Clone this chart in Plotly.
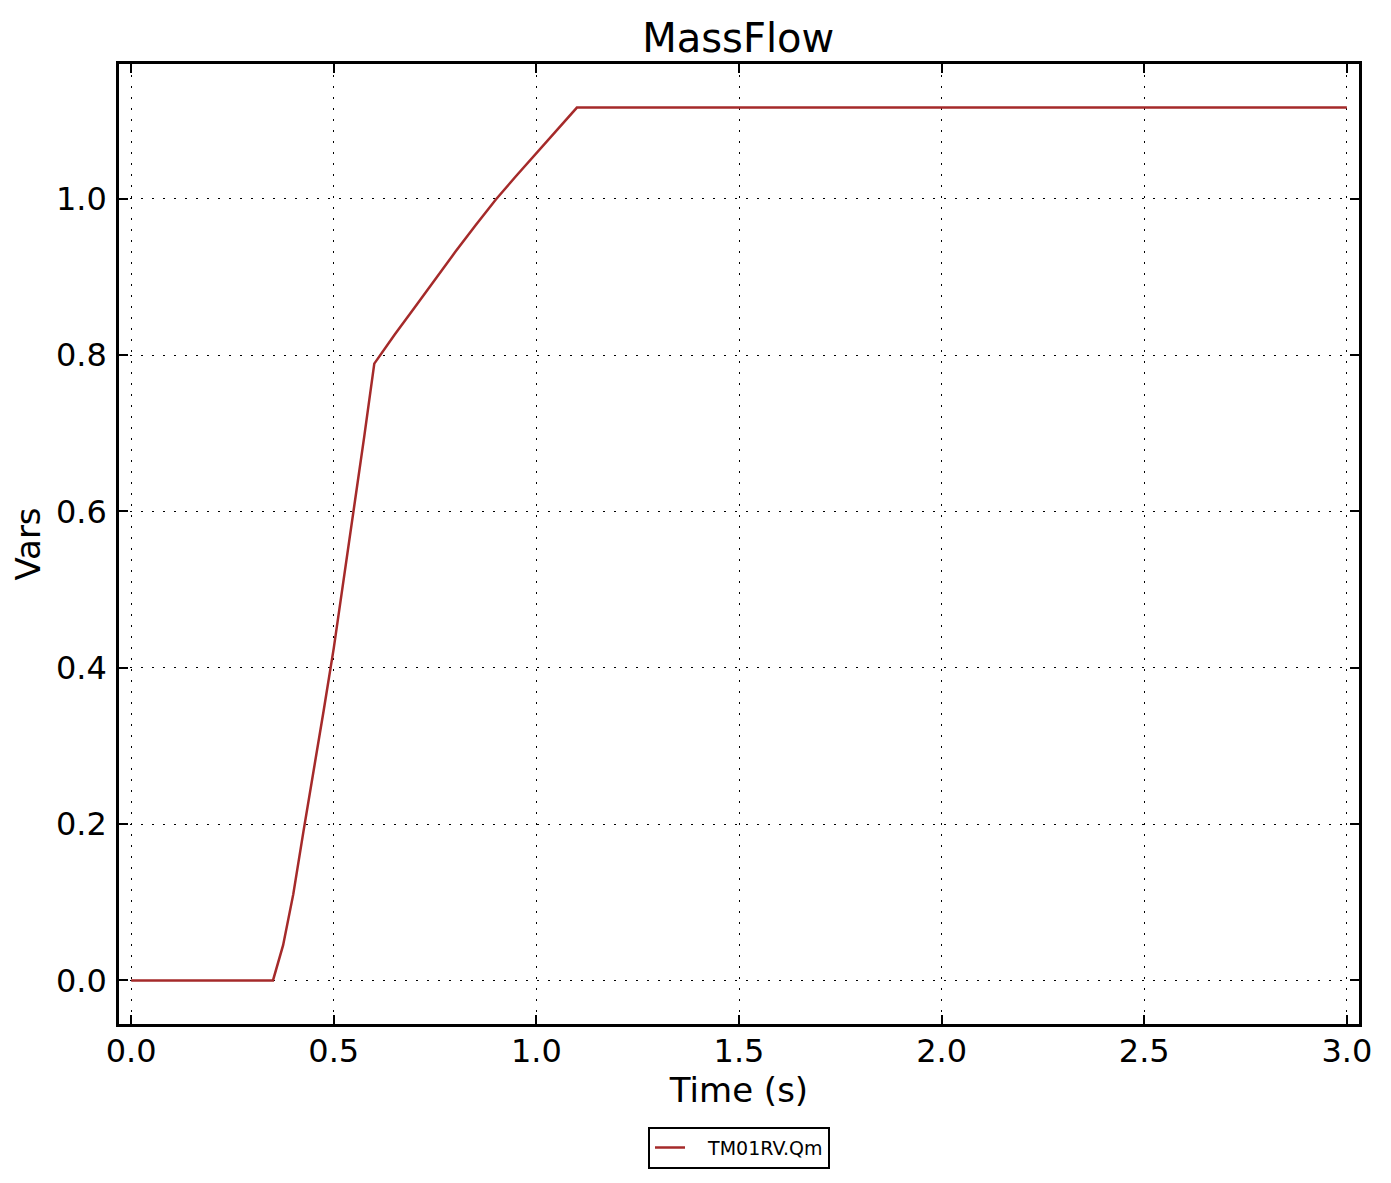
import plotly.graph_objects as go

# Data
time_s = [0.0, 0.35, 0.375, 0.40, 0.425, 0.45, 0.475, 0.50, 0.525, 0.55, 0.575,
          0.60, 0.65, 0.70, 0.75, 0.80, 0.85, 0.90, 0.95, 1.00, 1.05, 1.10, 3.0]
mass_flow = [0.0, 0.0, 0.045, 0.11, 0.19, 0.265, 0.345, 0.425, 0.513, 0.603, 0.695,
             0.789, 0.826, 0.861, 0.897, 0.932, 0.966, 0.999, 1.029, 1.058, 1.088, 1.1165, 1.1165]
series_name = "TM01RV.Qm"
x_ticks = [0.0, 0.5, 1.0, 1.5, 2.0, 2.5, 3.0]
y_ticks = [0.0, 0.2, 0.4, 0.6, 0.8, 1.0]

FONT = "DejaVu Sans"

fig = go.Figure()
fig.add_trace(go.Scatter(
    x=time_s, y=mass_flow, mode="lines", name="\u00a0\u00a0\u00a0" + series_name,
    line=dict(color="#a52a2a", width=2.5),
))

axis_common = dict(
    showline=True, linecolor="black", linewidth=2.5, mirror="ticks",
    ticks="inside", ticklen=9, tickwidth=1.5, tickcolor="black",
    showgrid=True, gridcolor="black", gridwidth=1, griddash="2px,9px",
    zeroline=False, automargin=False,
    tickfont=dict(family=FONT, size=32, color="black"),
)

fig.update_xaxes(
    **axis_common, range=[-0.03, 3.03], tickvals=x_ticks,
    ticktext=[f"{v:.1f}" for v in x_ticks],
    title=dict(text="Time (s)", font=dict(family=FONT, size=34, color="black"), standoff=10),
    ticklabelstandoff=-3,
)
fig.update_yaxes(
    **axis_common, range=[-0.0558, 1.1723], tickvals=y_ticks,
    ticktext=[f"{v:.1f}" for v in y_ticks],
    title=dict(text="Vars", font=dict(family=FONT, size=34, color="black"), standoff=11),
    ticklabelstandoff=3,
)

fig.update_layout(
    width=1383, height=1175,
    margin=dict(l=111, r=32, t=56, b=159, autoexpand=False),
    paper_bgcolor="white", plot_bgcolor="white",
    title=dict(text="MassFlow", x=0.528, xanchor="center", y=1 - 30 / 1175, yanchor="middle",
               yref="container", font=dict(family=FONT, size=40, color="black")),
    showlegend=True,
    legend=dict(orientation="h", x=0.5, xanchor="center", y=-0.107, yanchor="top",
                bordercolor="black", borderwidth=2, bgcolor="white",
                font=dict(family=FONT, size=19, color="black")),
)

fig.write_html("out.html")
